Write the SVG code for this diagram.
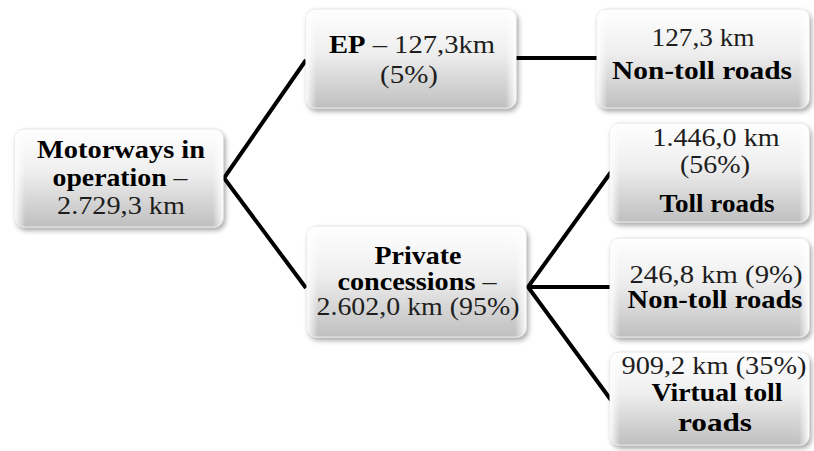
<svg xmlns="http://www.w3.org/2000/svg" width="814" height="451" viewBox="0 0 814 451">
<defs>
<linearGradient id="gv" x1="0" y1="0" x2="0" y2="1">
<stop offset="0" stop-color="#ffffff"/>
<stop offset="0.45" stop-color="#eeeeee"/>
<stop offset="1" stop-color="#bfbfbf"/>
</linearGradient>
<linearGradient id="gh" x1="0" y1="0" x2="1" y2="0">
<stop offset="0" stop-color="#ffffff" stop-opacity="0.9"/>
<stop offset="0.05" stop-color="#ffffff" stop-opacity="0"/>
<stop offset="0.95" stop-color="#ffffff" stop-opacity="0"/>
<stop offset="1" stop-color="#ffffff" stop-opacity="0.9"/>
</linearGradient>
<filter id="sh" x="-10%" y="-10%" width="125%" height="130%">
<feDropShadow dx="2" dy="3" stdDeviation="2.5" flood-color="#000" flood-opacity="0.35"/>
</filter>
</defs>
<style>
.box{fill:url(#gv);stroke:#e4e4e4;stroke-width:1;filter:url(#sh)}
.hl{fill:url(#gh)}
text{font-family:"Liberation Serif","Times New Roman",serif;font-size:25px;text-anchor:middle;fill:#1e1e1e}
.b{font-weight:bold;fill:#000}
.ln{fill:none;stroke:#000;stroke-width:4;stroke-linejoin:miter}
</style>
<rect width="814" height="451" fill="#ffffff"/>
<g id="connectors">
<polyline class="ln" points="306,60 224,178 306,288"/>
<line class="ln" x1="515" y1="58" x2="599" y2="58"/>
<polyline class="ln" points="611,172 528,287 611,400"/>
<line class="ln" x1="528" y1="287" x2="611" y2="287"/>
</g>
<g id="n-motorways">
<rect class="box" x="15" y="129" width="208" height="98" rx="9"/>
<rect class="hl" x="15" y="129" width="208" height="98" rx="9"/>
<text x="121" y="158" class="b" textLength="168" lengthAdjust="spacingAndGlyphs">Motorways in</text>
<text x="120" y="186" textLength="135" lengthAdjust="spacingAndGlyphs"><tspan class="b">operation</tspan> –</text>
<text x="121" y="214" textLength="128" lengthAdjust="spacingAndGlyphs">2.729,3 km</text>
</g>
<g id="n-ep">
<rect class="box" x="306" y="9" width="210" height="99" rx="9"/>
<rect class="hl" x="306" y="9" width="210" height="99" rx="9"/>
<text x="412" y="53" textLength="166" lengthAdjust="spacingAndGlyphs"><tspan class="b">EP</tspan> – 127,3km</text>
<text x="409" y="83" textLength="58" lengthAdjust="spacingAndGlyphs">(5%)</text>
</g>
<g id="n-ep-nontoll">
<rect class="box" x="597" y="9" width="212" height="99" rx="9"/>
<rect class="hl" x="597" y="9" width="212" height="99" rx="9"/>
<text x="703" y="46" textLength="103" lengthAdjust="spacingAndGlyphs">127,3 km</text>
<text x="702" y="79" class="b" textLength="180" lengthAdjust="spacingAndGlyphs">Non-toll roads</text>
</g>
<g id="n-private">
<rect class="box" x="307" y="226" width="219" height="111" rx="9"/>
<rect class="hl" x="307" y="226" width="219" height="111" rx="9"/>
<text x="418" y="264" class="b" textLength="87" lengthAdjust="spacingAndGlyphs">Private</text>
<text x="417" y="290" textLength="159" lengthAdjust="spacingAndGlyphs"><tspan class="b">concessions</tspan> –</text>
<text x="418" y="315" textLength="203" lengthAdjust="spacingAndGlyphs">2.602,0 km (95%)</text>
</g>
<g id="n-toll">
<rect class="box" x="610" y="123" width="199" height="99" rx="9"/>
<rect class="hl" x="610" y="123" width="199" height="99" rx="9"/>
<text x="716" y="146" textLength="127" lengthAdjust="spacingAndGlyphs">1.446,0 km</text>
<text x="715" y="173" textLength="70" lengthAdjust="spacingAndGlyphs">(56%)</text>
<text x="717" y="212" class="b" textLength="115" lengthAdjust="spacingAndGlyphs">Toll roads</text>
</g>
<g id="n-nontoll">
<rect class="box" x="610" y="238" width="199" height="99" rx="9"/>
<rect class="hl" x="610" y="238" width="199" height="99" rx="9"/>
<text x="716" y="283" textLength="173" lengthAdjust="spacingAndGlyphs">246,8 km (9%)</text>
<text x="715" y="308" class="b" textLength="175" lengthAdjust="spacingAndGlyphs">Non-toll roads</text>
</g>
<g id="n-virtual">
<rect class="box" x="610" y="352" width="199" height="93" rx="9"/>
<rect class="hl" x="610" y="352" width="199" height="93" rx="9"/>
<text x="714" y="374" textLength="185" lengthAdjust="spacingAndGlyphs">909,2 km (35%)</text>
<text x="717" y="401" class="b" textLength="131" lengthAdjust="spacingAndGlyphs">Virtual toll</text>
<text x="715" y="431" class="b" textLength="74" lengthAdjust="spacingAndGlyphs">roads</text>
</g>
</svg>
